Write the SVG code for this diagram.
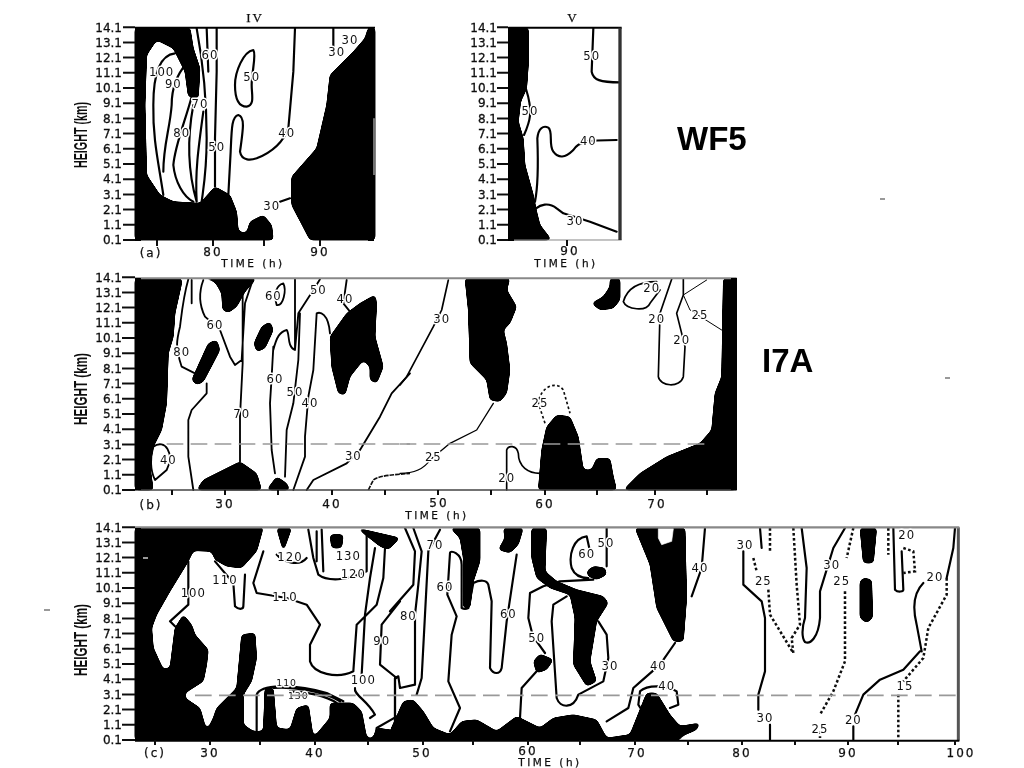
<svg xmlns="http://www.w3.org/2000/svg" width="1024" height="768" viewBox="0 0 1024 768">
<style>
text{font-family:"DejaVu Sans","Liberation Sans",sans-serif;fill:#111}
.k{fill:#000;stroke:#000;stroke-width:3;stroke-linejoin:round}
.w{fill:#fff;stroke:#fff;stroke-width:2;stroke-linejoin:round}
.c{fill:none;stroke:#000;stroke-width:6.500;stroke-linejoin:round;stroke-linecap:round}
.d{fill:none;stroke:#111;stroke-width:7.500;stroke-dasharray:8 7}
.g{fill:none;stroke:#999;stroke-width:5;stroke-dasharray:50 22}
.l{font-size:35px;letter-spacing:3px;text-anchor:middle;stroke:#fff;stroke-width:9px;paint-order:stroke;stroke-linejoin:round}
.a{font-size:12px;text-anchor:end;stroke:#111;stroke-width:.3px}
.x{font-size:12px;letter-spacing:2px;text-anchor:middle;stroke:#111;stroke-width:.25px}
.t{font-size:10.500px;letter-spacing:2.500px;text-anchor:middle;stroke:#111;stroke-width:.25px}
.h{font:bold 18px "Liberation Sans",Arial,sans-serif;text-anchor:middle}
.b{font:bold 33px "Liberation Sans",Arial,sans-serif;fill:#000}
.tk{stroke:#111;stroke-width:2;fill:none}
.f{fill:none;stroke:#000;stroke-width:2}
.s{fill:none;stroke:#888;stroke-width:3}
</style>
<defs>
<filter id="soft" x="0" y="0" width="1" height="1"><feGaussianBlur stdDeviation="0.5"/></filter>
<filter id="rnd" x="-5%" y="-5%" width="110%" height="110%"><feGaussianBlur stdDeviation="7"/><feComponentTransfer><feFuncA type="linear" slope="10" intercept="-4.500"/></feComponentTransfer></filter>
</defs>
<rect width="1024" height="768" fill="#fff"/>
<g filter="url(#soft)">
<g id="panel-a">
<g transform="translate(60,5) scale(.33333)">
<g filter="url(#rnd)">
<polygon class="k" points="225,68 390,68 400,130 420,190 415,280 385,275 375,200 340,130 290,105 260,150 255,300 260,510 300,570 340,590 420,595 465,545 510,570 530,620 535,680 560,685 570,650 610,630 635,660 640,705 225,705"/>
<polygon class="k" points="945,68 945,705 750,705 695,600 695,515 770,430 800,300 810,210 850,170 880,140 915,100 925,68"/>
</g>
<path class="c" d="M345,145C300,150 280,210 280,300C278,400 295,470 310,570M380,175C345,215 335,260 335,300C330,370 310,420 310,500M395,275C375,350 345,420 340,480C345,530 370,575 400,590M400,300C385,380 378,480 410,590M430,320C415,430 405,500 410,590M410,70C425,150 440,250 440,400C440,500 430,550 425,590M470,70V200L465,400V545M440,70L445,200M505,570L512,440C515,370 515,335 535,330C555,335 550,370 540,440C545,470 575,465 590,460C640,440 670,410 685,370L700,200L705,70M580,135C550,140 525,200 525,240C525,280 535,305 560,305C585,300 575,270 575,240C575,200 590,150 580,135ZM820,70V130M660,590L690,580"/>
<path d="M942,340V510" stroke="#888" stroke-width="5" fill="none"/>
<path class="f" d="M225,68H945" style="stroke-width:6"/>
<text class="l" x="305" y="212">100</text><text class="l" x="340" y="250">90</text><text class="l" x="450" y="162">60</text><text class="l" x="420" y="310">70</text><text class="l" x="365" y="397">80</text><text class="l" x="470" y="437">50</text><text class="l" x="575" y="227">50</text><text class="l" x="680" y="397">40</text><text class="l" x="635" y="614">30</text><text class="l" x="870" y="117">30</text><text class="l" x="830" y="152">30</text>
</g>
<path fill="#000" d="M135,27h6v6h-6zM135,235h6v6h-6zM368,235h6v6h-6zM368,27h6v6h-6z"/>
<path class="tk" d="M123,240H135M123,224.800H135M123,209.600H135M123,194.400H135M123,179.200H135M123,164H135M123,148.800H135M123,133.600H135M123,118.400H135M123,103.200H135M123,88H135M123,72.800H135M123,57.600H135M123,42.400H135M123,27.200H135M157,240V246M213,240V246M264,240V246M320,240V246"/>
<g class="a"><text x="122" y="244">0.1</text><text x="122" y="229">1.1</text><text x="122" y="214">2.1</text><text x="122" y="199">3.1</text><text x="122" y="183">4.1</text><text x="122" y="168">5.1</text><text x="122" y="153">6.1</text><text x="122" y="138">7.1</text><text x="122" y="123">8.1</text><text x="122" y="107">9.1</text><text x="122" y="92">10.1</text><text x="122" y="77">11.1</text><text x="122" y="62">12.1</text><text x="122" y="47">13.1</text><text x="122" y="32">14.1</text></g>
<text class="x" x="151" y="257">(a)</text><text class="x" x="213" y="256">80</text><text class="x" x="320" y="256">90</text><text class="t" x="253" y="267">TIME (h)</text>
<text class="x" x="255" y="22" style="font-family:'Liberation Serif',serif;font-size:13px">IV</text>
<text transform="translate(87,135) rotate(-90)" class="h" textLength="66" lengthAdjust="spacingAndGlyphs">HEIGHT (km)</text>
</g>
<g id="panel-v">
<g transform="translate(450,5) scale(.33333)">
<g filter="url(#rnd)"><polygon class="k" points="175,68 235,68 235,180 230,250 212,290 205,350 220,400 225,480 250,570 260,620 270,660 305,705 175,705"/></g>
<path class="c" d="M222,390C240,350 250,320 228,252M255,590C265,540 265,480 262,400C265,370 280,360 295,368C310,380 295,420 310,440C325,460 345,460 370,435C385,410 410,405 500,405M258,610C270,600 295,590 320,610L340,625L420,650L500,680M430,70L425,200C430,225 450,232 510,232"/>
<path class="f" d="M175,68H515" style="stroke-width:6"/><path class="s" d="M175,705H515"/><path d="M510,68V705" stroke="#333" stroke-width="10" fill="none"/>
<text class="l" x="425" y="166">50</text><text class="l" x="240" y="331">50</text><text class="l" x="415" y="419">40</text><text class="l" x="375" y="659">30</text>
</g>
<path fill="#000" d="M508,27h6v6h-6zM508,235h6v6h-6z"/>
<path class="tk" d="M497,240H508M497,224.800H508M497,209.600H508M497,194.400H508M497,179.200H508M497,164H508M497,148.800H508M497,133.600H508M497,118.400H508M497,103.200H508M497,88H508M497,72.800H508M497,57.600H508M497,42.400H508M497,27.200H508M567,240V246"/>
<g class="a"><text x="497" y="244">0.1</text><text x="497" y="229">1.1</text><text x="497" y="214">2.1</text><text x="497" y="199">3.1</text><text x="497" y="183">4.1</text><text x="497" y="168">5.1</text><text x="497" y="153">6.1</text><text x="497" y="138">7.1</text><text x="497" y="123">8.1</text><text x="497" y="107">9.1</text><text x="497" y="92">10.1</text><text x="497" y="77">11.1</text><text x="497" y="62">12.1</text><text x="497" y="47">13.1</text><text x="497" y="32">14.1</text></g>
<text class="x" x="570" y="255">90</text><text class="t" x="566" y="267">TIME (h)</text><text class="x" x="573" y="22" style="font-family:'Liberation Serif',serif;font-size:13px">V</text>
</g>
<g id="panel-b">
<g transform="translate(60,270) scale(.33333)">
<g filter="url(#rnd)">
<polygon class="k" points="225,25 365,25 365,40 345,130 340,200 325,250 320,400 305,480 280,530 270,590 280,660 225,660"/>
<polygon class="k" points="420,25 590,25 555,65 530,110 505,128 488,120 485,70 465,35"/>
<polygon class="k" points="630,155 605,170 582,220 590,245 615,235 640,180"/>
<polygon class="k" points="470,210 445,220 395,330 410,345 430,335 480,240"/>
<polygon class="k" points="410,660 430,630 540,575 590,610 605,660"/>
<polygon class="k" points="620,660 650,620 680,640 690,660"/>
<polygon class="k" points="945,75 900,100 860,130 810,200 815,290 835,370 855,375 870,320 910,270 930,290 930,330 950,340 970,290 945,200 950,100"/>
</g>
<path class="c" style="stroke-width:5.500" d="M385,28C370,80 365,130 360,170C350,210 345,230 365,290L405,310M395,30V100M440,340V370L395,420L385,450V560L400,660M430,30C415,70 420,110 435,140L480,180L510,260L525,285L545,270L555,100L575,40M548,70V280L540,440V575M670,40C650,45 640,70 650,105C670,110 680,60 670,40M705,28V240M640,240C650,200 660,185 680,180C690,190 680,230 705,240L715,130L760,60L780,28M640,230L635,320L630,400L635,540L645,610M720,130L715,270L700,400L680,480L675,620M810,190C805,130 780,125 770,130L760,300L745,380L735,500V560L700,660M860,30L850,100L870,125M740,660L760,630L860,580L900,540L960,440L995,370L1050,310M280,530C315,505 345,550 320,600L285,630C270,600 270,560 280,530"/>
<path class="d" d="M925,660L940,630C960,615 1000,615 1050,610" style="stroke-width:5;stroke-dasharray:14 3"/>
<path class="g" d="M320,522H1050"/>
<text class="l" x="640" y="90">60</text><text class="l" x="775" y="72">50</text><text class="l" x="855" y="100">40</text><text class="l" x="465" y="178">60</text><text class="l" x="365" y="258">80</text><text class="l" x="645" y="340">60</text><text class="l" x="705" y="378">50</text><text class="l" x="750" y="412">40</text><text class="l" x="545" y="443">70</text><text class="l" x="325" y="582">40</text><text class="l" x="880" y="571">30</text>
</g>
<g transform="translate(400,270) scale(.33333)">
<g filter="url(#rnd)">
<polygon class="k" points="195,25 330,25 320,60 350,110 330,160 310,180 320,220 330,300 320,370 300,395 270,390 260,330 210,280 205,120"/>
<polygon class="k" points="415,660 425,540 440,470 470,435 510,440 535,500 550,600 575,600 590,565 630,565 640,620 650,660"/>
<polygon class="k" points="670,660 720,610 800,560 900,520 935,480 945,370 965,320 970,25 1010,25 1010,660"/>
<polygon class="k" points="630,25 660,25 660,90 640,115 600,120 575,100 610,80 630,50"/>
</g>
<path class="c" d="M0,345L20,320L100,170L125,120L145,30M320,660V540C325,525 350,525 355,550C355,590 385,610 420,610M670,95C680,60 710,35 770,35M670,95C680,120 740,125 750,100L780,60M815,28L780,130L775,320C780,350 840,355 850,320L855,230L830,130L850,75V28" style="stroke-width:5"/>
<path class="c" d="M0,610C40,610 70,600 90,570L150,520L230,480L280,400" style="stroke-width:4"/>
<path class="d" d="M435,460L415,400C420,350 470,330 490,360L510,430" style="stroke-width:5"/>
<path class="c" d="M920,30L850,75L870,120L965,180" style="stroke-width:3"/>
<path class="g" d="M-1,522H920"/>
<path class="s" d="M-795,25H1010" style="stroke-width:6"/>
<path class="f" d="M-795,660H1010" style="stroke-width:5;stroke:#444"/>
<text class="l" x="125" y="160">30</text><text class="l" x="100" y="572">25</text><text class="l" x="420" y="412">25</text><text class="l" x="320" y="637">20</text><text class="l" x="755" y="65">20</text><text class="l" x="770" y="160">20</text><text class="l" x="845" y="222">20</text><text class="l" x="900" y="147">25</text>
</g>
<path fill="#000" d="M135,278h6v6h-6zM135,485h6v5h-6zM731,278h6v6h-6zM731,485h6v5h-6z"/>
<path class="tk" d="M122,490H135M122,474.800H135M122,459.600H135M122,444.400H135M122,429.200H135M122,414H135M122,398.800H135M122,383.600H135M122,368.400H135M122,353.200H135M122,338H135M122,322.800H135M122,307.600H135M122,292.400H135M122,277.200H135M172,490V495M225,490V495M278,490V495M332,490V495M385,490V495M438,490V495M491,490V495M545,490V495M597,490V495M655,490V495M707,490V495"/>
<g class="a"><text x="122" y="494">0.1</text><text x="122" y="479">1.1</text><text x="122" y="464">2.1</text><text x="122" y="449">3.1</text><text x="122" y="433">4.1</text><text x="122" y="418">5.1</text><text x="122" y="403">6.1</text><text x="122" y="388">7.1</text><text x="122" y="373">8.1</text><text x="122" y="357">9.1</text><text x="122" y="342">10.1</text><text x="122" y="327">11.1</text><text x="122" y="312">12.1</text><text x="122" y="297">13.1</text><text x="122" y="282">14.1</text></g>
<text class="x" x="151" y="509">(b)</text><text class="x" x="225" y="508">30</text><text class="x" x="332" y="508">40</text><text class="x" x="439" y="507">50</text><text class="x" x="545" y="508">60</text><text class="x" x="657" y="508">70</text><text class="t" x="437" y="519">TIME (h)</text>
<text transform="translate(87,389) rotate(-90)" class="h" textLength="72" lengthAdjust="spacingAndGlyphs">HEIGHT (km)</text>
</g>
<g id="panel-c">
<g transform="translate(60,518) scale(.33333)">
<g filter="url(#rnd)">
<polygon class="k" points="225,28 610,28 590,100 545,150 500,145 465,125 455,100 400,98 385,130 330,220 290,290 275,330 280,390 310,455 330,450 345,330 370,290 395,320 405,350 445,395 440,440 430,490 375,525 375,540 420,570 440,640 460,600 470,570 530,510 545,350 585,345 590,420 575,490 550,530 550,620 580,640 610,640 615,510 640,510 650,630 690,635 710,570 745,560 760,660 810,600 810,555 880,555 905,580 920,660 940,660 950,630 1020,640 1020,668 225,668"/>
<polygon class="k" points="650,30 695,30 670,100"/>
<polygon class="k" points="890,30 1020,60 985,95 960,85"/>
<polygon class="k" points="810,50 850,50 845,90 815,90"/>
</g>
<path class="c" d="M385,130V260L330,310L345,325M465,130L520,195L525,265C535,275 550,275 550,265L555,170M610,100L580,195L590,225L680,240L740,260L780,320L750,380V430C760,465 830,485 880,460L890,320L950,260L970,180L975,90M945,90L930,180L915,290L905,470M650,110C670,135 720,145 740,120M745,35L760,120L775,170C800,190 860,190 920,160V40M785,35L790,160M770,40V130M1020,250L965,320L960,440L1010,480M590,640V530C600,500 700,495 800,525L850,550M640,510C700,505 790,520 840,550M690,520C740,520 800,535 830,555M885,510C880,530 920,545 945,590L930,600M1020,590L950,630L945,660M1005,480V620"/>
<text class="l" x="400" y="237">100</text><text class="l" x="495" y="197">110</text><text class="l" x="675" y="248">110</text><text class="l" x="690" y="130">120</text><text class="l" x="865" y="127">130</text><text class="l" x="880" y="181">120</text><text class="l" x="965" y="382">90</text><text class="l" x="680" y="503" style="font-size:28px">110</text><text class="l" x="715" y="543" style="font-size:28px">130</text><text class="l" x="910" y="499">100</text>
</g>
<g transform="translate(390,518) scale(.33333)">
<g filter="url(#rnd)">
<polygon class="k" points="180,30 270,30 270,130 250,190 240,270 220,270 220,120 210,60"/>
<polygon class="k" points="340,30 400,30 385,80 360,105 325,95 345,60"/>
<polygon class="k" points="425,30 470,30 465,160 500,190 560,215 640,235 655,255 620,310 600,430 620,490 590,505 550,440 555,300 540,230 480,210 440,180 425,120"/>
<polygon class="k" points="430,430 450,408 490,425 470,455 440,465"/>
<polygon class="k" points="590,160 610,145 645,150 650,170 620,185 595,175"/>
<polygon class="k" points="735,30 885,30 890,240 880,370 850,370 800,270 780,140"/>
<polygon class="k" points="-1,668 0,640 40,550 70,545 100,580 130,630 180,650 215,610 260,605 320,640 380,595 410,610 450,630 490,600 550,590 620,605 650,660 720,650 770,525 800,525 840,590 870,625 930,615 920,635 850,665 960,668"/>
</g>
<polygon class="w" points="805,32 850,32 845,70 815,80 805,60"/>
<path class="c" d="M45,30L75,100L70,200L0,280M70,30L95,100L85,200L75,290V500L30,510L25,475L15,480V620M150,35L115,100L105,290L95,480L80,530M215,270V140C215,105 180,95 180,105L172,230L200,295L185,350L175,490L210,570L180,640M215,270C225,275 235,270 235,270L250,195C270,185 290,185 295,200L305,250L300,450C310,470 330,470 335,450L350,310L380,110M610,185L510,190L460,205L420,225L415,300L430,360M440,370L465,405M440,460L395,510L390,600M530,235L490,260L485,310L500,540C510,570 550,575 565,530L640,490L655,420L650,350L625,310M590,55C550,60 535,110 545,150C555,175 575,180 595,180M590,55L600,100M650,30V145M945,30L935,150L905,235M855,375L810,440L730,510L715,570L650,610M770,600L745,560L750,520C770,500 830,500 860,520L865,560L840,570"/>
<text class="l" x="135" y="94">70</text><text class="l" x="55" y="307">80</text><text class="l" x="165" y="220">60</text><text class="l" x="355" y="300">60</text><text class="l" x="440" y="372">50</text><text class="l" x="660" y="455">30</text><text class="l" x="590" y="120">60</text><text class="l" x="648" y="87">50</text><text class="l" x="930" y="162">40</text><text class="l" x="805" y="455">40</text><text class="l" x="830" y="517">40</text>
</g>
<g transform="translate(690,518) scale(.33333)">
<g filter="url(#rnd)">
<polygon class="k" points="510,30 560,30 550,135 520,135"/>
<polygon class="k" points="510,190 520,180 545,185 548,300 530,315 510,300"/>
</g>
<path class="c" d="M160,100V200L215,250L225,300V460L205,530V575M240,620V665M210,30L215,90M335,30L350,150L345,300C335,330 335,360 345,372C360,380 385,360 390,300L390,220L430,90L465,30M690,400L640,455L570,485L520,530L495,590M490,625V665M610,30L615,215C625,225 640,220 640,215L635,100M700,195C665,230 670,280 680,320L695,400M770,180L790,90L795,30"/>
<path class="d" d="M240,30V100M190,120L200,160M235,215L240,290L310,405L305,360L330,320L320,200L310,30M490,30L470,120M465,220V430L430,520L390,590M390,640V660M595,30V110M640,90L670,100L675,160L640,165M770,180V230L715,330L700,420L640,490M625,530V660"/>
<path d="M805,28V668" stroke="#555" stroke-width="9" fill="none"/>
<path class="g" d="M-1485,532H800"/>
<path class="s" d="M-1665,28H808" style="stroke-width:7"/>
<path class="f" d="M-1665,668H808" style="stroke-width:6"/>
<text class="l" x="165" y="92">30</text><text class="l" x="220" y="202">25</text><text class="l" x="425" y="152">30</text><text class="l" x="455" y="202">25</text><text class="l" x="650" y="62">20</text><text class="l" x="735" y="190">20</text><text class="l" x="645" y="517">15</text><text class="l" x="225" y="612">30</text><text class="l" x="390" y="644">25</text><text class="l" x="490" y="617">20</text>
</g>
<path fill="#000" d="M135,528h6v6h-6zM135,735h6v5h-6z"/>
<path class="tk" d="M122,740H135M122,724.800H135M122,709.600H135M122,694.400H135M122,679.200H135M122,664H135M122,648.800H135M122,633.600H135M122,618.400H135M122,603.200H135M122,588H135M122,572.800H135M122,557.600H135M122,542.400H135M122,527.200H135M155,740V745M210,740V745M260,740V745M315,740V745M368,740V745M423,740V745M473,740V745M528,740V745M580,740V745M635,740V745M688,740V745M742,740V745M795,740V745M848,740V745M898,740V745M955,740V745"/>
<g class="a"><text x="122" y="744">0.1</text><text x="122" y="729">1.1</text><text x="122" y="714">2.1</text><text x="122" y="699">3.1</text><text x="122" y="683">4.1</text><text x="122" y="668">5.1</text><text x="122" y="653">6.1</text><text x="122" y="638">7.1</text><text x="122" y="623">8.1</text><text x="122" y="607">9.1</text><text x="122" y="592">10.1</text><text x="122" y="577">11.1</text><text x="122" y="562">12.1</text><text x="122" y="547">13.1</text><text x="122" y="532">14.1</text></g>
<text class="x" x="155" y="757">(c)</text><text class="x" x="210" y="757">30</text><text class="x" x="315" y="757">40</text><text class="x" x="422" y="757">50</text><text class="x" x="528" y="755">60</text><text class="x" x="637" y="757">70</text><text class="x" x="742" y="757">80</text><text class="x" x="848" y="757">90</text><text class="x" x="961" y="757">100</text><text class="t" x="550" y="766">TIME (h)</text>
<text transform="translate(87,640) rotate(-90)" class="h" textLength="72" lengthAdjust="spacingAndGlyphs">HEIGHT (km)</text>
</g>
<path stroke="#999" stroke-width="2" fill="none" d="M880,199H885M945,378H950M44,610H50M143,558H148"/>
</g>
<text class="b" x="677" y="150">WF5</text>
<text class="b" x="762" y="372">I7A</text>
</svg>
